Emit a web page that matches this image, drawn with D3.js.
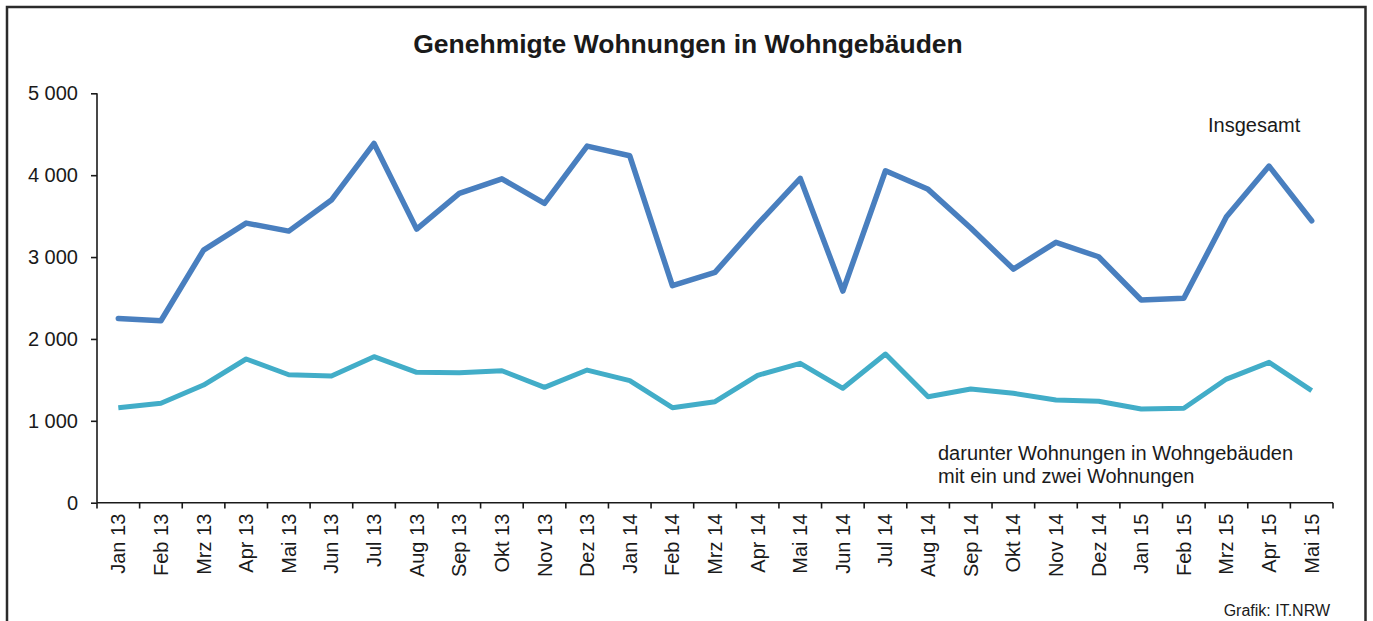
<!DOCTYPE html>
<html><head><meta charset="utf-8">
<script src="https://cdn.jsdelivr.net/npm/d3@7"></script>
<style>body{margin:0;background:#fff}svg{display:block}text{font-family:"Liberation Sans",Arial,sans-serif;fill:#1a1a1a}</style>
</head><body><svg id="c" width="1373" height="621"></svg>
<script>
const months = ["Jan 13","Feb 13","Mrz 13","Apr 13","Mai 13","Jun 13","Jul 13","Aug 13","Sep 13","Okt 13","Nov 13","Dez 13",
  "Jan 14","Feb 14","Mrz 14","Apr 14","Mai 14","Jun 14","Jul 14","Aug 14","Sep 14","Okt 14","Nov 14","Dez 14",
  "Jan 15","Feb 15","Mrz 15","Apr 15","Mai 15"];
const insgesamt = [2251,2222,3085,3415,3317,3696,4388,3341,3778,3956,3656,4355,4237,2650,2813,3402,3961,2585,4054,3827,3354,2853,3180,3004,2475,2496,3492,4111,3443];
const einZwei = [1160,1214,1437,1755,1563,1547,1783,1592,1587,1612,1409,1620,1490,1160,1233,1556,1702,1397,1816,1294,1388,1336,1254,1238,1144,1153,1510,1714,1368];
const yTicks = [0,1000,2000,3000,4000,5000];
const title = "Genehmigte Wohnungen in Wohngebäuden";
const labelA = "Insgesamt";
const labelB = ["darunter Wohnungen in Wohngebäuden","mit ein und zwei Wohnungen"];
const source = "Grafik: IT.NRW";

const svg = d3.select("#c");
// frame
svg.append("path").attr("d","M7,621 V7 H1365.5 V621").attr("fill","none").attr("stroke","#2b2b2b").attr("stroke-width",2.5);

const x = d3.scaleBand().domain(months).range([97,1333]);
const y = d3.scaleLinear().domain([0,5000]).range([502.7,93.3]);
const fmt = d => d3.format(",")(d).replace(/,/g," ");

const ya = svg.append("g").attr("transform","translate(97,0)")
  .call(d3.axisLeft(y).tickValues(yTicks).tickSize(6).tickPadding(13).tickFormat(fmt));
ya.selectAll("path,line").attr("stroke","#1a1a1a").attr("stroke-width",1.6);
ya.select(".domain").attr("d","M0,93.3V502.7");
ya.selectAll("text").style("font-size","20px").attr("font-family","Liberation Sans, Arial, sans-serif").attr("fill","#1a1a1a");

const xa = svg.append("g").attr("transform","translate(0,502.7)")
  .call(d3.axisBottom(x).tickSize(0).tickFormat(d=>d));
xa.select(".domain").attr("d","M97,0H1333").attr("stroke","#1a1a1a").attr("stroke-width",1.6);
xa.selectAll(".tick text").attr("transform","rotate(-90)").attr("x",-11).attr("y",0).attr("dy","0.35em")
  .style("text-anchor","end").style("font-size","20px").attr("font-family","Liberation Sans, Arial, sans-serif").attr("fill","#1a1a1a");
// band boundary ticks
const bounds = months.map(m=>x(m)).concat([x(months[months.length-1])+x.bandwidth()]);
svg.append("g").selectAll("line").data(bounds).join("line")
  .attr("x1",d=>d).attr("x2",d=>d).attr("y1",502.7).attr("y2",508.5)
  .attr("stroke","#1a1a1a").attr("stroke-width",1.6);

const line = d3.line().x((d,i)=>x(months[i])+x.bandwidth()/2).y(d=>y(d));
svg.append("path").datum(einZwei).attr("d",line).attr("fill","none").attr("stroke","#42adc8").attr("stroke-width",5).attr("stroke-linejoin","round");
svg.append("path").datum(insgesamt).attr("d",line).attr("fill","none").attr("stroke","#497fbf").attr("stroke-width",5.5).attr("stroke-linejoin","round").attr("stroke-linecap","round");

svg.append("text").attr("x",688).attr("y",53).attr("text-anchor","middle").style("font-size","26.5px").style("font-weight","bold").text(title);
svg.append("text").attr("x",1208).attr("y",132).style("font-size","20px").text(labelA);
svg.append("text").attr("x",938).attr("y",460).style("font-size","20px").text(labelB[0]);
svg.append("text").attr("x",938).attr("y",483).style("font-size","20px").text(labelB[1]);
svg.append("text").attr("x",1330).attr("y",616).attr("text-anchor","end").style("font-size","16px").text(source);
</script></body></html>
